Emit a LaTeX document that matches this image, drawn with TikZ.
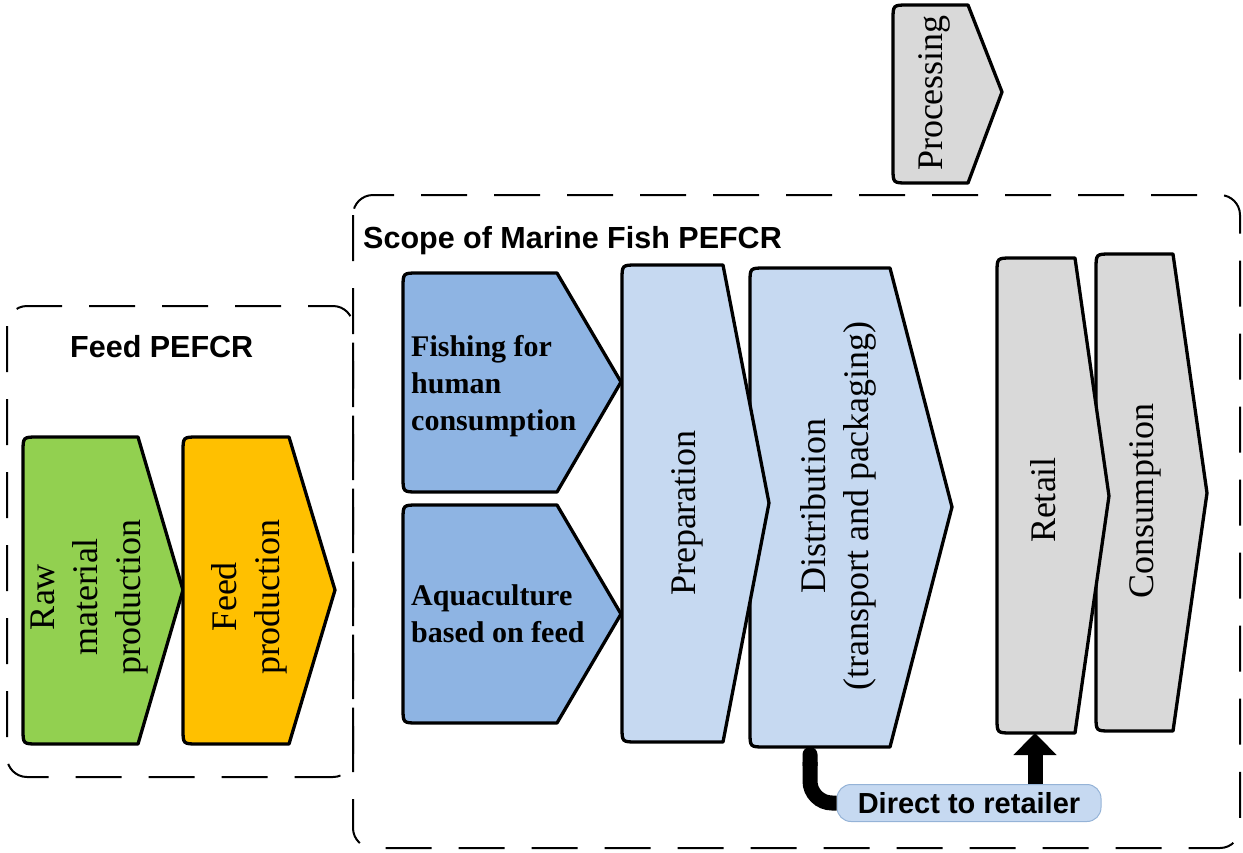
\documentclass[tikz,border=0pt]{standalone}
\usepackage{fontspec}
\setmainfont{Liberation Serif}
\setsansfont{Liberation Sans}
\usetikzlibrary{arrows.meta}
\definecolor{rawgreen}{HTML}{92D050}
\definecolor{feedorange}{HTML}{FFC000}
\definecolor{catchblue}{HTML}{8EB4E3}
\definecolor{chainblue}{HTML}{C6D9F1}
\definecolor{shopgrey}{HTML}{D9D9D9}
\definecolor{pillrim}{HTML}{95B3D7}
% stage outline: rounded on the left, pointed on the right
% #1 fill, #2 left, #3 top, #4 flat right, #5 tip x, #6 tip y, #7 bottom
\newcommand{\stageshape}[7]{%
  \path[stage,fill=#1] (#4,#3) -- (#5,#6) -- (#4,#7) -- (#2+15,#7)
    .. controls (#2,#7) .. (#2,#7-15) -- (#2,#3+15)
    .. controls (#2,#3) .. (#2+15,#3) -- cycle;}

\begin{document}
\begin{tikzpicture}[x=1pt,y=-1pt,
  stage/.style={draw=black,line width=3.3pt,line join=round},
  region/.style={draw=black,line width=2pt,dash pattern=on 46pt off 27pt,rounded corners=20pt},
  title/.style={font=\sffamily\bfseries\fontsize{30.5}{36}\selectfont,inner sep=0pt,anchor=base west},
  side/.style={rotate=90,font=\fontsize{36}{43}\selectfont,inner sep=0pt},
  source/.style={font=\bfseries\fontsize{30}{37}\selectfont,align=left,inner sep=0pt,anchor=west},
  pill/.style={draw=pillrim,line width=1pt,fill=chainblue,rounded corners=14pt,minimum width=264pt,minimum height=37pt,inner sep=0pt,font=\sffamily\bfseries\fontsize{29}{34}\selectfont},
  link/.style={line width=15pt,rounded corners=22pt,{Round Cap[]}-},
  lift/.style={line width=15pt,-{Triangle[width=43pt,length=22pt,line width=1pt]}}]

\useasboundingbox (0,0) rectangle (1243,852);

% boundaries
\draw[region] (7,306) rectangle (353,777);
\draw[region] (353,195) rectangle (1240,848);
\node[title] (feedlbl) at (70,357) {Feed PEFCR};
\node[title] (scopelbl) at (363,248) {Scope of Marine Fish PEFCR};

% feed chain
\stageshape{rawgreen}{23}{437}{138}{183}{590}{744}
\stageshape{feedorange}{183}{437}{289}{335}{590}{744}
\node[side,align=center] (raw) at (90,597) {Raw\\material\\production};
\node[side,align=center] (feed) at (249,597) {Feed\\production};

% fish chain
\stageshape{catchblue}{403}{273}{557}{621}{382}{492}
\stageshape{catchblue}{403}{505}{557}{621}{614}{723}
\stageshape{chainblue}{750}{268}{890}{952}{507}{747}
\stageshape{chainblue}{622}{265}{723}{769}{503}{742}
\stageshape{shopgrey}{1096}{254}{1173}{1207}{493}{731}
\stageshape{shopgrey}{997}{258}{1075}{1109}{496}{733}
\stageshape{shopgrey}{893}{5}{968}{1002}{92}{183}

\node[source] (fish) at (411,386) {Fishing for\\human\\consumption};
\node[source] (aqua) at (411,614) {Aquaculture\\based on feed};
\node[side,anchor=base] (prep) at (695,513) {Preparation};
\node[side,align=center] (dist) at (838,506) {Distribution\\(transport and packaging)};
\node[side,anchor=base] (retail) at (1055,500) {Retail};
\node[side,anchor=base] (cons) at (1153,501) {Consumption};
\node[side,anchor=base] (proc) at (942,93) {Processing};

% shortcut past the processing step
\node[pill] (direct) at (969,803) {Direct to retailer};
\coordinate (dist-out) at (810,747);
\coordinate (retail-in) at (1035,733);
\draw[link] (dist-out) |- (direct.west);
\draw[lift] (direct.north -| retail-in) -- (retail-in);
\end{tikzpicture}
\end{document}
